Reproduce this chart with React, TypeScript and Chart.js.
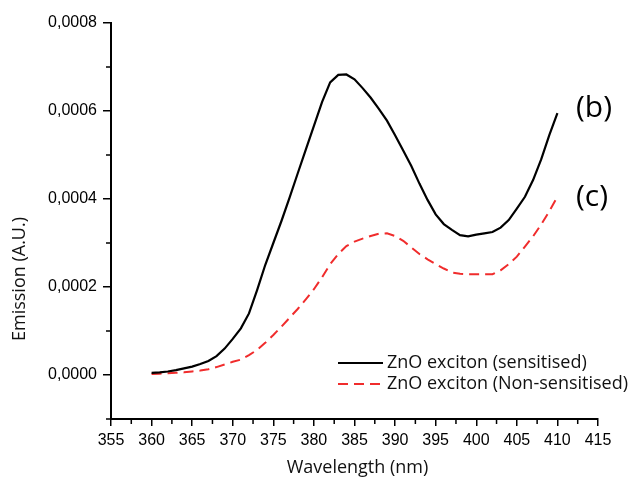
import React, { useEffect, useRef } from 'react';
import { Chart, registerables } from 'chart.js';

Chart.register(...registerables);

// ---- Data ----
const wavelengths = [
  360, 361, 362, 363, 364, 365, 366, 367, 368, 369,
  370, 371, 372, 373, 374, 375, 376, 377, 378, 379,
  380, 381, 382, 383, 384, 385, 386, 387, 388, 389,
  390, 391, 392, 393, 394, 395, 396, 397, 398, 399,
  400, 401, 402, 403, 404, 405, 406, 407, 408, 409, 410,
];

const sensitised = [
  0.000005, 0.000006, 0.000008, 0.000011, 0.000015, 0.000019, 0.000025, 0.000032, 0.000043, 0.00006,
  0.000082, 0.000106, 0.00014, 0.000193, 0.00025, 0.0003, 0.00035, 0.000403, 0.000458, 0.000512,
  0.000566, 0.00062, 0.000665, 0.000682, 0.000683, 0.000672, 0.000652, 0.00063, 0.000605, 0.000578,
  0.000545, 0.00051, 0.000475, 0.000435, 0.000398, 0.000365, 0.000343, 0.00033, 0.000318, 0.000315,
  0.000319, 0.000322, 0.000325, 0.000335, 0.000352, 0.000378, 0.000405, 0.000443, 0.00049, 0.000545, 0.000595,
];

const nonSensitised = [
  0.000002, 0.000003, 0.000004, 0.000005, 0.000006, 0.000008, 0.00001, 0.000013, 0.000018, 0.000024,
  0.00003, 0.000035, 0.000045, 0.000057, 0.000073, 0.000091, 0.00011, 0.00013, 0.00015, 0.000172,
  0.000195, 0.000222, 0.000252, 0.000275, 0.000293, 0.000303, 0.00031, 0.000316, 0.000321, 0.000322,
  0.000316, 0.000305, 0.00029, 0.000275, 0.000263, 0.000252, 0.000242, 0.000233, 0.00023, 0.000229,
  0.000229, 0.000229, 0.000229, 0.000238, 0.000252, 0.000269, 0.000292, 0.000315, 0.000342, 0.000372, 0.000405,
];

const seriesLabels = ['ZnO exciton (sensitised)', 'ZnO exciton (Non-sensitised)'];
const curveTags = ['(b)', '(c)'];

const xTicks = [355, 360, 365, 370, 375, 380, 385, 390, 395, 400, 405, 410, 415];
const xMinorTicks = [357.5, 362.5, 367.5, 372.5, 377.5, 382.5, 387.5, 392.5, 397.5, 402.5, 407.5, 412.5];
const yTicks = [0, 0.0002, 0.0004, 0.0006, 0.0008];
const yMinorTicks = [-0.0001, 0.0001, 0.0003, 0.0005, 0.0007];

const xTitle = 'Wavelength (nm)';
const yTitle = 'Emission (A.U.)';

const BLACK = '#000000';
const RED = '#f02c2c';

const overlayPlugin = {
  id: 'overlay',
  afterDraw(chart: any) {
    const { ctx, chartArea: ca, scales } = chart;
    const xs = scales.x;
    const ys = scales.y;
    ctx.save();
    // minor ticks
    ctx.strokeStyle = '#000';
    ctx.lineWidth = 1.5;
    ctx.beginPath();
    xMinorTicks.forEach((v) => {
      const px = xs.getPixelForValue(v);
      ctx.moveTo(px, ca.bottom);
      ctx.lineTo(px, ca.bottom + 5);
    });
    yMinorTicks.forEach((v) => {
      const py = ys.getPixelForValue(v);
      ctx.moveTo(ca.left, py);
      ctx.lineTo(ca.left - 5, py);
    });
    ctx.stroke();

    // axis titles
    ctx.fillStyle = '#111';
    ctx.font = '18px "Open Sans"';
    ctx.textAlign = 'center';
    ctx.textBaseline = 'middle';
    ctx.fillText(xTitle, (ca.left + ca.right) / 2 + 3, 468);
    ctx.save();
    ctx.translate(20, 279);
    ctx.rotate(-Math.PI / 2);
    ctx.fillText(yTitle, 0, 0);
    ctx.restore();

    // legend
    const lx0 = ca.right - 260;
    const lx1 = lx0 + 45;
    const ly = [363, 384];
    ctx.lineWidth = 2.2;
    ctx.strokeStyle = BLACK;
    ctx.setLineDash([]);
    ctx.beginPath();
    ctx.moveTo(lx0, ly[0]);
    ctx.lineTo(lx1, ly[0]);
    ctx.stroke();
    ctx.strokeStyle = RED;
    ctx.setLineDash([10, 6]);
    ctx.beginPath();
    ctx.moveTo(lx0, ly[1]);
    ctx.lineTo(lx1, ly[1]);
    ctx.stroke();
    ctx.setLineDash([]);
    ctx.textAlign = 'left';
    ctx.font = '18px "Open Sans"';
    ctx.fillStyle = '#111';
    ctx.fillText(seriesLabels[0], lx1 + 4, ly[0]);
    ctx.fillText(seriesLabels[1], lx1 + 4, ly[1]);

    // curve tags
    ctx.font = '30px "Open Sans"';
    ctx.fillStyle = '#000';
    ctx.fillText(curveTags[0], ca.right - 22, 108);
    ctx.fillText(curveTags[1], ca.right - 22, 197);
    ctx.restore();
  },
};

export default function App() {
  const ref = useRef<HTMLCanvasElement | null>(null);

  useEffect(() => {
    if (!ref.current) return;
    const chart = new Chart(ref.current, {
      type: 'line',
      data: {
        datasets: [
          {
            label: seriesLabels[0],
            data: wavelengths.map((x, i) => ({ x, y: sensitised[i] })),
            borderColor: BLACK,
            borderWidth: 2.2,
            pointRadius: 0,
            tension: 0,
            fill: false,
          },
          {
            label: seriesLabels[1],
            data: wavelengths.map((x, i) => ({ x, y: nonSensitised[i] })),
            borderColor: RED,
            borderWidth: 2,
            borderDash: [10, 6],
            pointRadius: 0,
            tension: 0,
            fill: false,
          },
        ],
      },
      options: {
        responsive: false,
        animation: false,
        layout: { padding: { left: 0, right: 35, top: 23, bottom: 0 } },
        plugins: {
          legend: { display: false },
          tooltip: { enabled: false },
        },
        scales: {
          x: {
            type: 'linear',
            min: 355,
            max: 415,
            afterBuildTicks: (s: any) => {
              s.ticks = xTicks.map((v) => ({ value: v }));
            },
            afterFit: (s: any) => {
              s.height = 60;
            },
            grid: { drawOnChartArea: false, tickLength: 7, color: '#000', lineWidth: 1.5 },
            border: { color: '#000', width: 2 },
            ticks: {
              color: '#000',
              font: { family: 'Liberation Sans', size: 16 },
              padding: 5,
              maxRotation: 0,
              autoSkip: false,
              callback: (v: any) => String(v),
            },
          },
          y: {
            type: 'linear',
            min: -0.0001,
            max: 0.0008,
            afterBuildTicks: (s: any) => {
              s.ticks = yTicks.map((v) => ({ value: v }));
            },
            afterFit: (s: any) => {
              s.width = 111;
            },
            grid: { drawOnChartArea: false, tickLength: 8, color: '#000', lineWidth: 1.5 },
            border: { color: '#000', width: 2 },
            ticks: {
              color: '#000',
              font: { family: 'Liberation Sans', size: 16 },
              padding: 6,
              autoSkip: false,
              callback: (v: any) => Number(v).toFixed(4).replace('.', ','),
            },
          },
        },
      },
      plugins: [overlayPlugin],
    } as any);
    return () => chart.destroy();
  }, []);

  return (
    <div style={{ position: 'absolute', left: 0, top: 0, width: 633, height: 479, background: '#fff' }}>
      <canvas ref={ref} width={633} height={479} />
    </div>
  );
}
